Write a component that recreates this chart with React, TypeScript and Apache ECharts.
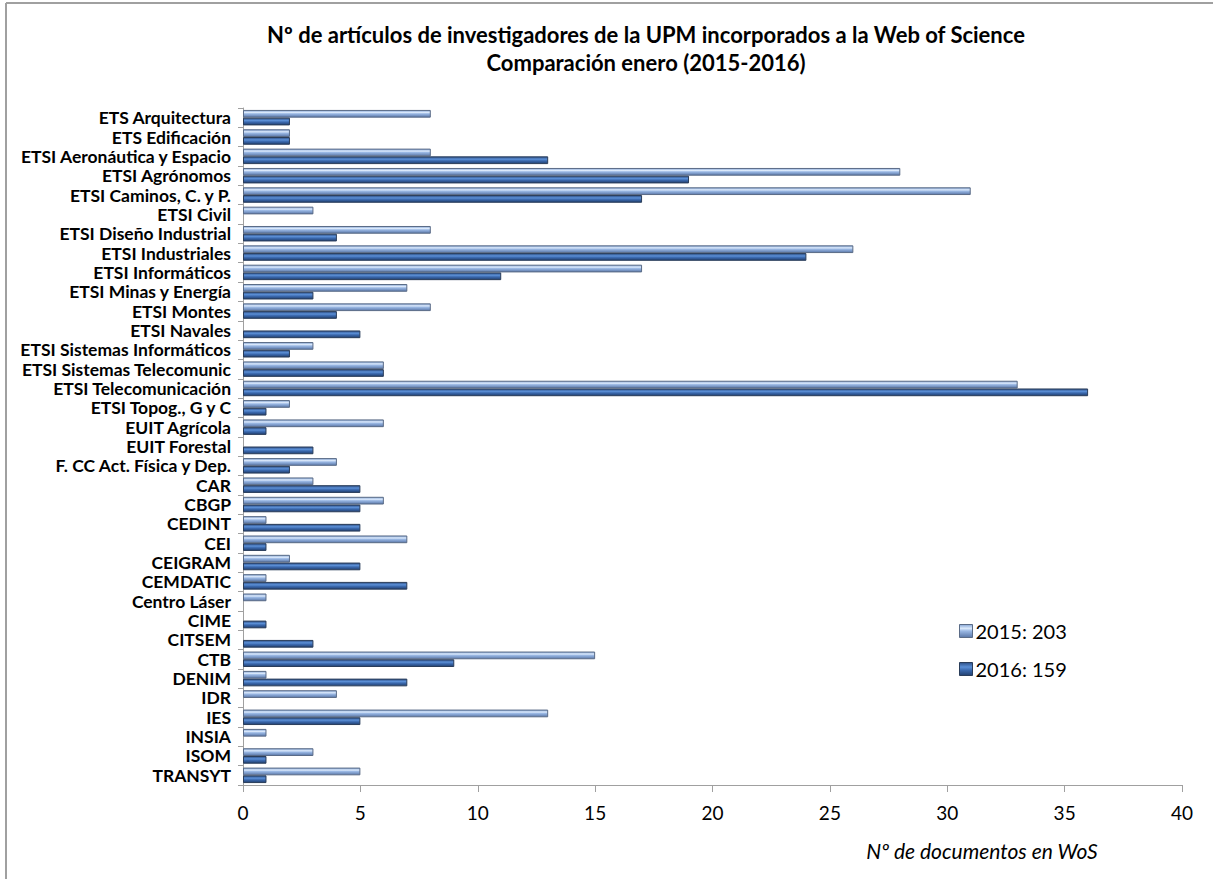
import React, { useEffect, useRef } from "react";
import * as echarts from "echarts";

const categories = [
  "ETS Arquitectura",
  "ETS Edificación",
  "ETSI Aeronáutica y Espacio",
  "ETSI Agrónomos",
  "ETSI Caminos, C. y P.",
  "ETSI Civil",
  "ETSI Diseño Industrial",
  "ETSI Industriales",
  "ETSI Informáticos",
  "ETSI Minas y Energía",
  "ETSI Montes",
  "ETSI Navales",
  "ETSI Sistemas Informáticos",
  "ETSI Sistemas Telecomunic",
  "ETSI Telecomunicación",
  "ETSI Topog., G y C",
  "EUIT Agrícola",
  "EUIT Forestal",
  "F. CC Act. Física y Dep.",
  "CAR",
  "CBGP",
  "CEDINT",
  "CEI",
  "CEIGRAM",
  "CEMDATIC",
  "Centro Láser",
  "CIME",
  "CITSEM",
  "CTB",
  "DENIM",
  "IDR",
  "IES",
  "INSIA",
  "ISOM",
  "TRANSYT",
];

const values2015 = [8, 2, 8, 28, 31, 3, 8, 26, 17, 7, 8, 0, 3, 6, 33, 2, 6, 0, 4, 3, 6, 1, 7, 2, 1, 1, 0, 0, 15, 1, 4, 13, 1, 3, 5];
const values2016 = [2, 2, 13, 19, 17, 0, 4, 24, 11, 3, 4, 5, 2, 6, 36, 1, 1, 3, 2, 5, 5, 5, 1, 5, 7, 0, 1, 3, 9, 7, 0, 5, 0, 1, 1];

const seriesNames = ["2015: 203", "2016: 159"];
const titleLines = [
  "Nº de artículos de investigadores de la UPM incorporados a la Web of Science",
  "Comparación enero (2015-2016)",
];
const xAxisName = "Nº de documentos en WoS";

const FONT = "Lato, 'Open Sans', sans-serif";

const hideZero = (arr: number[]) => arr.map((v) => (v === 0 ? "-" : v));

export default function App() {
  const ref = useRef<HTMLDivElement>(null);
  useEffect(() => {
    document.body.style.margin = "0";
    if (!ref.current) return;
    const chart = echarts.init(ref.current, null, { renderer: "svg" });
    const grad2015 = new echarts.graphic.LinearGradient(0, 0, 0, 1, [
      { offset: 0, color: "#86a6d6" },
      { offset: 0.3, color: "#dbe9fb" },
      { offset: 0.5, color: "#9ab8e4" },
      { offset: 1, color: "#5a77a8" },
    ]);
    const grad2016 = new echarts.graphic.LinearGradient(0, 0, 0, 1, [
      { offset: 0, color: "#2d4f86" },
      { offset: 0.35, color: "#5b8fd6" },
      { offset: 0.6, color: "#3a68ad" },
      { offset: 1, color: "#22406f" },
    ]);
    chart.setOption({
      animation: false,
      backgroundColor: "#ffffff",
      title: {
        text: titleLines.join("\n"),
        left: 641,
        textAlign: "center",
        top: 15,
        textStyle: {
          fontFamily: FONT,
          fontWeight: "bold",
          fontSize: 22,
          color: "#000",
          lineHeight: 28,
        },
      },
      legend: {
        orient: "vertical",
        left: 954,
        top: 616,
        itemWidth: 13,
        itemHeight: 13,
        itemGap: 18,
        icon: "rect",
        textStyle: { fontFamily: FONT, fontSize: 20, color: "#000", padding: [0, 0, 0, -2] },
        data: [
          { name: seriesNames[0], itemStyle: { color: grad2015, borderColor: "#5a6b86", borderWidth: 1 } },
          { name: seriesNames[1], itemStyle: { color: grad2016, borderColor: "#2a3d5a", borderWidth: 1 } },
        ],
      },
      grid: { left: 243, right: 31, top: 108, bottom: 94, containLabel: false },
      xAxis: {
        type: "value",
        min: 0,
        max: 40,
        interval: 5,
        splitLine: { show: false },
        axisLine: { show: true, lineStyle: { color: "#a0a0a0", width: 1 } },
        axisTick: { show: true, length: 7, lineStyle: { color: "#a0a0a0" } },
        axisLabel: { fontFamily: FONT, fontSize: 19, color: "#000", margin: 18 },
      },
      yAxis: {
        type: "category",
        inverse: true,
        data: categories,
        axisLine: { show: true, lineStyle: { color: "#a0a0a0", width: 1 } },
        axisTick: { show: true, length: 5, lineStyle: { color: "#a0a0a0" } },
        axisLabel: {
          fontFamily: FONT,
          fontWeight: "bold",
          fontSize: 17.5,
          color: "#000",
          margin: 12,
          interval: 0,
        },
      },
      graphic: [
        {
          type: "line",
          shape: { x1: 6, y1: 3, x2: 6, y2: 879 },
          style: { stroke: "#a0a0a0", lineWidth: 2 },
        },
        {
          type: "line",
          shape: { x1: 6, y1: 3, x2: 1213, y2: 3 },
          style: { stroke: "#a0a0a0", lineWidth: 2 },
        },
        {
          type: "text",
          right: 115,
          top: 840,
          style: {
            text: xAxisName,
            fontFamily: FONT,
            fontStyle: "italic",
            fontSize: 21,
            fill: "#000",
          },
        },
      ],
      series: [
        {
          name: seriesNames[0],
          type: "bar",
          data: hideZero(values2015),
          barGap: "0%",
          barCategoryGap: "20%",
          itemStyle: { color: grad2015, borderColor: "#5a6b86", borderWidth: 1 },
        },
        {
          name: seriesNames[1],
          type: "bar",
          data: hideZero(values2016),
          barGap: "0%",
          barCategoryGap: "20%",
          itemStyle: { color: grad2016, borderColor: "#2a3d5a", borderWidth: 1 },
        },
      ],
    });
    return () => chart.dispose();
  }, []);
  return <div ref={ref} style={{ width: 1213, height: 879 }} />;
}
